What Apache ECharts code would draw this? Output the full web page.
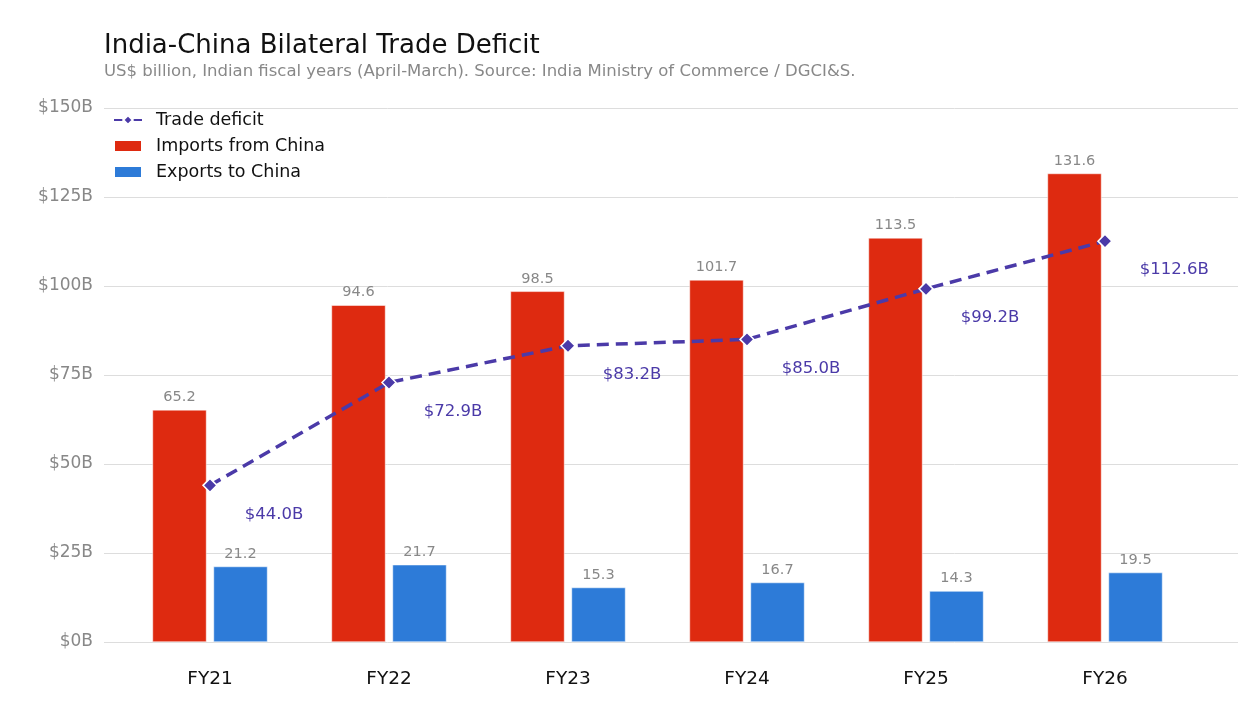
<!DOCTYPE html>
<html>
<head>
<meta charset="utf-8">
<script src="https://cdn.jsdelivr.net/npm/echarts@6/dist/echarts.min.js"></script>
<style>
  html, body { margin: 0; padding: 0; background: #ffffff; }
  #main { width: 1254px; height: 724px; }
</style>
</head>
<body>
<div id="main"></div>
<script>
// fiscal years and values (US$ billion)
var years = ['FY21', 'FY22', 'FY23', 'FY24', 'FY25', 'FY26'];
var imports = [65.2, 94.6, 98.5, 101.7, 113.5, 131.6];
var exports = [21.2, 21.7, 15.3, 16.7, 14.3, 19.5];
var deficit = [44.0, 72.9, 83.2, 85.0, 99.2, 112.6];
var yTicks = [0, 25, 50, 75, 100, 125, 150];

var font = 'DejaVu Sans';
var chart = echarts.init(document.getElementById('main'));

chart.setOption({
  backgroundColor: '#ffffff',
  textStyle: { fontFamily: font },
  title: {
    text: 'India-China Bilateral Trade Deficit',
    subtext: 'US$ billion, Indian fiscal years (April-March). Source: India Ministry of Commerce / DGCI&S.',
    left: 104,
    top: 33,
    padding: 0,
    itemGap: 4,
    textStyle: { fontFamily: font, fontSize: 26, fontWeight: 'normal', color: '#111111' },
    subtextStyle: { fontFamily: font, fontSize: 16.5, color: '#888888' }
  },
  legend: {
    orient: 'vertical',
    left: 113,
    top: 111,
    padding: 0,
    itemWidth: 28,
    itemHeight: 12,
    itemGap: 8,
    data: [
      { name: 'Trade deficit' },
      { name: 'Imports from China', icon: 'rect' },
      { name: 'Exports to China', icon: 'rect' }
    ],
    textStyle: { fontFamily: font, fontSize: 17.5, color: '#111111', padding: [0, 0, 0, 9] }
  },
  grid: [
    { left: 104, right: 16, top: 108, bottom: 82 },
    { left: 120.5, right: 59.5, top: 108, bottom: 82 }
  ],
  xAxis: [
    { gridIndex: 0, type: 'value', min: 0, max: 1, show: false },
    {
      gridIndex: 1,
      type: 'category',
      data: years,
      axisLine: { show: false },
      axisTick: { show: false },
      axisLabel: { fontFamily: font, fontSize: 18.5, color: '#111111', margin: 28 }
    }
  ],
  yAxis: [
    {
      gridIndex: 0,
      type: 'value',
      min: yTicks[0],
      max: yTicks[yTicks.length - 1],
      interval: 25,
      axisLine: { show: false },
      axisTick: { show: false },
      splitLine: { lineStyle: { color: '#dddddd', width: 1 } },
      axisLabel: {
        fontFamily: font, fontSize: 17, color: '#888888', margin: 11,
        padding: [4, 0, 0, 0],
        formatter: function (v) { return '$' + v + 'B'; }
      }
    },
    {
      gridIndex: 1,
      type: 'value',
      min: yTicks[0],
      max: yTicks[yTicks.length - 1],
      interval: 25,
      show: false
    }
  ],
  series: [
    {
      name: 'Imports from China',
      type: 'bar',
      xAxisIndex: 1,
      yAxisIndex: 1,
      data: imports,
      barWidth: 54,
      barGap: '13%',
      itemStyle: { color: '#de2a10', borderColor: '#ffffff', borderWidth: 0.5 },
      label: { show: true, position: 'top', distance: 5, fontFamily: font, fontSize: 14.5, color: '#888888' },
      z: 2
    },
    {
      name: 'Exports to China',
      type: 'bar',
      xAxisIndex: 1,
      yAxisIndex: 1,
      data: exports,
      barWidth: 54,
      itemStyle: { color: '#2d7bd8', borderColor: '#ffffff', borderWidth: 0.5 },
      label: { show: true, position: 'top', distance: 5, fontFamily: font, fontSize: 14.5, color: '#888888' },
      z: 2
    },
    {
      name: 'Trade deficit',
      type: 'line',
      xAxisIndex: 1,
      yAxisIndex: 1,
      data: deficit,
      symbol: 'diamond',
      symbolSize: 14,
      lineStyle: { color: '#4b3aa8', width: 3.5, type: [12, 7] },
      itemStyle: { color: '#4b3aa8', borderColor: '#ffffff', borderWidth: 1.5 },
      label: {
        show: true,
        position: 'right',
        distance: 5,
        offset: [22, 29],
        fontFamily: font,
        fontSize: 16.5,
        color: '#4b3aa8',
        formatter: function (p) { return '$' + p.value.toFixed(1) + 'B'; }
      },
      z: 5
    }
  ]
});
</script>
</body>
</html>
